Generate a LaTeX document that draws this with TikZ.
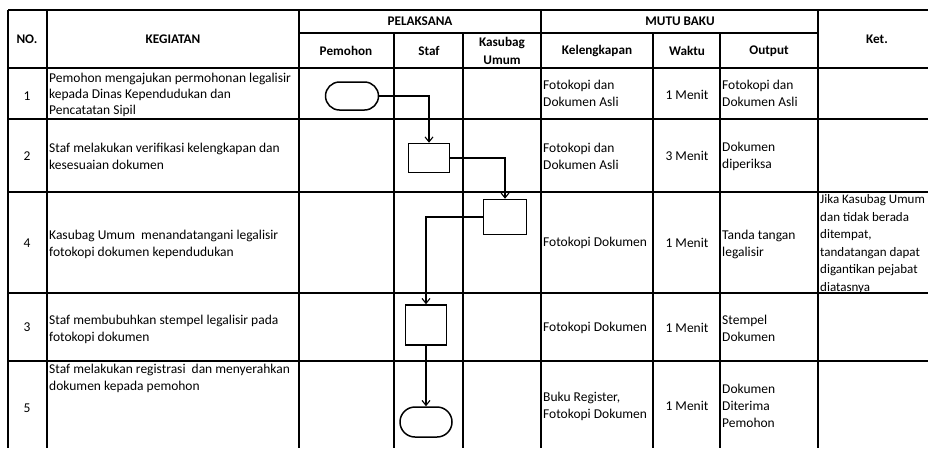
\documentclass[tikz,border=0pt]{standalone}
\usepackage{fontspec}
\setmainfont{Carlito}
\usetikzlibrary{arrows.meta,shapes,positioning}

\begin{document}
\begin{tikzpicture}[x=1pt,y=-1pt,>={Straight Barb[length=5pt,width=8pt]},
        tbl/.style={line width=2pt},
        hd/.style={font=\bfseries\fontsize{13.2}{18}\selectfont,align=center,inner sep=0},
        cell/.style={font=\fontsize{13.5}{17}\selectfont,align=left,anchor=west,inner sep=0},
        num/.style={font=\fontsize{13.5}{17}\selectfont,inner sep=0},
        proc/.style={rectangle,draw,line width=1.5pt,minimum width=41pt,minimum height=29pt,inner sep=0},
        term/.style={rounded rectangle,draw,line width=1.5pt,minimum width=53pt,minimum height=28pt,inner sep=0},
        flow/.style={->,line width=1.1pt}]
        \useasboundingbox (0,0) rectangle (928,448);
        % table grid
        \draw[tbl] (8,10) -- (928,10);
        \draw[tbl] (299,33) -- (818,33);
        \draw[tbl] (8,68) -- (928,68);
        \draw[tbl] (8,119) -- (928,119);
        \draw[tbl] (8,192) -- (928,192);
        \draw[tbl] (8,293) -- (928,293);
        \draw[tbl] (8,361) -- (928,361);
        \draw[tbl] (8,10) -- (8,448);
        \draw[tbl] (47,10) -- (47,448);
        \draw[tbl] (299,10) -- (299,448);
        \draw[tbl] (541,10) -- (541,448);
        \draw[tbl] (818,10) -- (818,448);
        \draw[tbl] (394,33) -- (394,448);
        \draw[tbl] (463,33) -- (463,448);
        \draw[tbl] (653,33) -- (653,448);
        \draw[tbl] (720,33) -- (720,448);
        % header
        \node[hd] (hno)   at (27,39)  {NO.};
        \node[hd] (hkeg)  at (173,39) {KEGIATAN};
        \node[hd] (hpel)  at (420,21) {PELAKSANA};
        \node[hd] (hmutu) at (680,21) {MUTU BAKU};
        \node[hd] (hket)  at (877,39) {Ket.};
        \node[hd] (hpem)  at (346,51) {Pemohon};
        \node[hd] (hstaf) at (429,51) {Staf};
        \node[hd] (hkas)  at (502,51) {Kasubag\\Umum};
        \node[hd] (hkel)  at (597,51) {Kelengkapan};
        \node[hd] (hwak)  at (687,51) {Waktu};
        \node[hd] (hout)  at (769,51) {Output};
        % row 1
        \node[num]  (n1) at (27,96)  {1};
        \node[cell,font=\fontsize{13.5}{16}\selectfont] (k1) at (49,95)  {Pemohon mengajukan permohonan legalisir\\kepada Dinas Kependudukan dan\\Pencatatan Sipil};
        \node[cell] (l1) at (543,93) {Fotokopi dan\\Dokumen Asli};
        \node[num]  (w1) at (687,95) {1 Menit};
        \node[cell] (o1) at (722,93) {Fotokopi dan\\Dokumen Asli};
        % row 2
        \node[num]  (n2) at (27,156)  {2};
        \node[cell] (k2) at (49,156)  {Staf melakukan verifikasi kelengkapan dan\\kesesuaian dokumen};
        \node[cell] (l2) at (543,156) {Fotokopi dan\\Dokumen Asli};
        \node[num]  (w2) at (687,156) {3 Menit};
        \node[cell] (o2) at (722,156) {Dokumen\\diperiksa};
        % row 4
        \node[num]  (n4) at (27,243)  {4};
        \node[cell] (k4) at (49,244)  {Kasubag Umum\ \ menandatangani legalisir\\fotokopi dokumen kependudukan};
        \node[cell] (l4) at (543,243) {Fotokopi Dokumen};
        \node[num]  (w4) at (687,243) {1 Menit};
        \node[cell] (o4) at (722,244) {Tanda tangan\\legalisir};
        \node[cell,font=\fontsize{13}{17.6}\selectfont] (c4) at (820,244) {Jika Kasubag Umum\\dan tidak berada\\ditempat,\\tandatangan dapat\\digantikan pejabat\\diatasnya};
        % row 3
        \node[num]  (n3) at (27,327)  {3};
        \node[cell] (k3) at (49,329)  {Staf membubuhkan stempel legalisir pada\\fotokopi dokumen};
        \node[cell] (l3) at (543,328) {Fotokopi Dokumen};
        \node[num]  (w3) at (687,328) {1 Menit};
        \node[cell] (o3) at (722,328) {Stempel\\Dokumen};
        % row 5
        \node[num]  (n5) at (27,408)  {5};
        \node[cell,anchor=north west] (k5) at (49,364) {Staf melakukan registrasi\ \ dan menyerahkan\\dokumen kepada pemohon};
        \node[cell] (l5) at (543,406) {Buku Register,\\Fotokopi Dokumen};
        \node[num]  (w5) at (687,406) {1 Menit};
        \node[cell] (o5) at (722,406) {Dokumen\\Diterima\\Pemohon};
        % flow
        \node[term] (start) at (352,96)  {};
        \node[proc] (verif) at (429,158) {};
        \node[proc,minimum width=43pt,minimum height=35pt] (ttd) at (505,217) {};
        \node[proc,minimum height=40pt] (stemp) at (426,325) {};
        \node[term,minimum width=52pt,minimum height=30pt] (finish) at (426,422) {};
        \draw[flow] (start.east) -| (verif.north);
        \draw[flow] (verif.east) -| (ttd.north);
        \draw[flow] (ttd.west) -| (stemp.north);
        \draw[flow] (stemp) -- (finish);
      \end{tikzpicture}
\end{document}
